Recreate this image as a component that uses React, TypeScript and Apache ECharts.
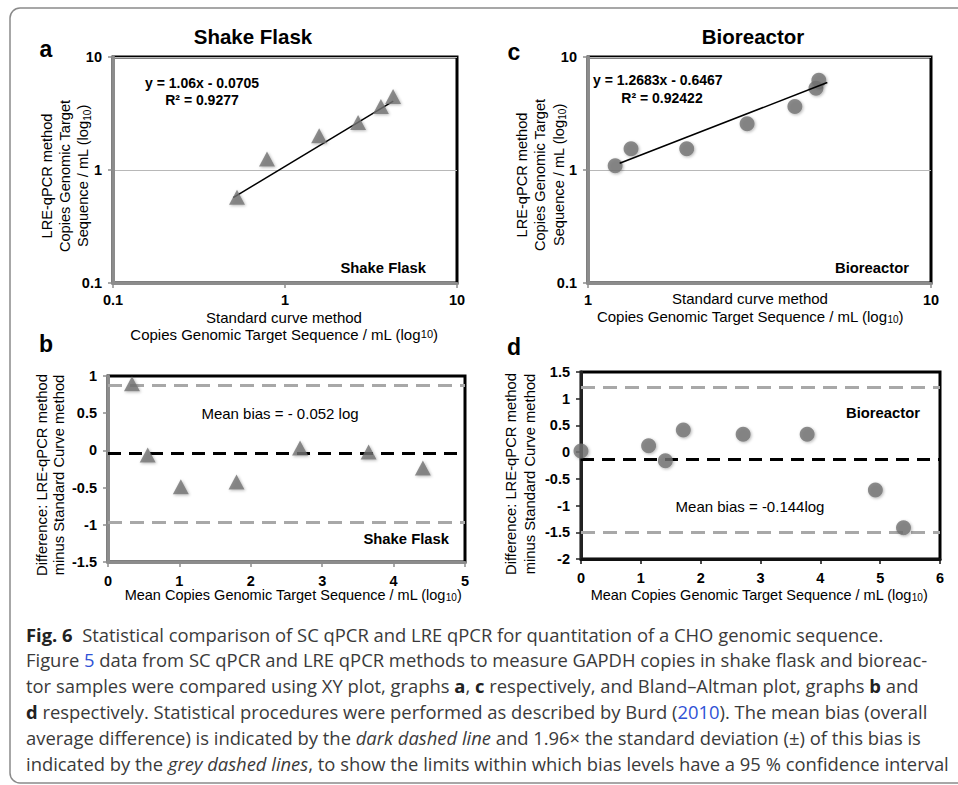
import React, { useEffect, useRef } from "react";
import * as echarts from "echarts";

// Panel a: XY plot, shake flask (SC method vs LRE method)
const shakeX = [0.526, 0.786, 1.58, 2.66, 3.61, 4.25];
const shakeY = [0.574, 1.25, 2.01, 2.63, 3.65, 4.48];
const shakeTrend = [
  [0.5, 0.57],
  [4.26, 4.07],
];

// Panel c: XY plot, bioreactor
const bioX = [1.2, 1.335, 1.94, 2.91, 4.01, 4.62, 4.71];
const bioY = [1.09, 1.54, 1.54, 2.57, 3.65, 5.29, 6.23];
const bioTrend = [
  [1.237, 1.148],
  [4.985, 5.94],
];

// Panel b: Bland-Altman, shake flask
const baShakeX = [0.336, 0.556, 1.02, 1.8, 2.69, 3.65, 4.41];
const baShakeY = [0.896, -0.062, -0.49, -0.425, 0.032, -0.02, -0.237];
const baShakeUpper = 0.87;
const baShakeMean = -0.04;
const baShakeLower = -0.96;

// Panel d: Bland-Altman, bioreactor
const baBioX = [0.0, 1.13, 1.41, 1.71, 2.71, 3.78, 4.92, 5.39];
const baBioY = [0.02, 0.12, -0.16, 0.414, 0.333, 0.333, -0.71, -1.415];
const baBioUpper = 1.21;
const baBioMean = -0.144;
const baBioLower = -1.5;

const FONT = "'Liberation Sans', Arial, Helvetica, sans-serif";
const CAP_FONT = "'Open Sans', 'Noto Sans', sans-serif";
const CAP_SIZE = 18.4;

const zip = (xs: number[], ys: number[]) => xs.map((x, i) => [x, ys[i]]);

const tickLabel = {
  color: "#000",
  fontWeight: "bold" as const,
  fontSize: 14.5,
  fontFamily: FONT,
};

function makeAxis(
  gridIndex: number,
  kind: "log" | "value",
  min: number,
  max: number,
  lineColor: string,
  extra: any = {},
  margin = 11
) {
  const ax: any = {
    gridIndex,
    type: kind,
    min,
    max,
    axisLine: { show: true, onZero: false, lineStyle: { color: lineColor, width: 3 } },
    axisTick: { show: true, length: 5, lineStyle: { color: lineColor, width: 1.5 } },
    axisLabel: { ...tickLabel, margin, formatter: (v: number) => String(+v.toFixed(4)) },
    splitLine: { show: false },
    ...extra,
  };
  if (kind === "log") ax.logBase = 10;
  return ax;
}

const triStyle = {
  color: "#727272",
  shadowBlur: 3,
  shadowColor: "rgba(0,0,0,0.35)",
  shadowOffsetX: 1,
  shadowOffsetY: 1,
};

const greyDash = { color: "#a8a8a8", width: 3, type: [14, 8] as number[] };
const darkDash = { color: "#000", width: 3, type: [13, 8] as number[] };

function txt(x: number, y: number, text: string, o: any = {}) {
  return {
    type: "text",
    x,
    y,
    rotation: o.rotation || 0,
    silent: true,
    style: {
      text,
      fill: o.fill || "#000",
      fontFamily: o.fontFamily || FONT,
      fontSize: o.fontSize || 15,
      fontWeight: o.fontWeight || "normal",
      fontStyle: o.fontStyle || "normal",
      align: o.align || "center",
      verticalAlign: "middle",
      lineHeight: o.lineHeight,
      rich: o.rich,
    },
  };
}

const subRich = {
  s: { fontSize: 10, fontFamily: FONT, verticalAlign: "bottom", lineHeight: 12, fill: "#000" },
};

const capRich = {
  b: { fontWeight: "bold", fontFamily: CAP_FONT, fontSize: CAP_SIZE, fill: "#222" },
  l: { fill: "#2f52d6", fontFamily: CAP_FONT, fontSize: CAP_SIZE },
  i: { fontStyle: "italic", fontFamily: CAP_FONT, fontSize: CAP_SIZE, fill: "#3a3a3a" },
};

const captionLines = [
  "{b|Fig. 6}  Statistical comparison of SC qPCR and LRE qPCR for quantitation of a CHO genomic sequence.",
  "Figure {l|5} data from SC qPCR and LRE qPCR methods to measure GAPDH copies in shake flask and bioreac-",
  "tor samples were compared using XY plot, graphs {b|a}, {b|c} respectively, and Bland–Altman plot, graphs {b|b} and",
  "{b|d} respectively. Statistical procedures were performed as described by Burd ({l|2010}). The mean bias (overall",
  "average difference) is indicated by the {i|dark dashed line} and 1.96× the standard deviation (±) of this bias is",
  "indicated by the {i|grey dashed lines}, to show the limits within which bias levels have a 95 % confidence interval",
];

export default function App() {
  const ref = useRef<HTMLDivElement>(null);

  useEffect(() => {
    document.body.style.margin = "0";
    const chart = echarts.init(ref.current!, null, { renderer: "svg" });

    const graphics: any[] = [
      {
        type: "rect",
        silent: true,
        z: -10,
        shape: { x: 10, y: 8, width: 990, height: 775, r: 10 },
        style: { fill: "none", stroke: "#8a8a8a", lineWidth: 1.5 },
      },
      // titles and panel letters
      txt(253, 36, "Shake Flask", { fontSize: 20.5, fontWeight: "bold" }),
      txt(753, 36, "Bioreactor", { fontSize: 20.5, fontWeight: "bold" }),
      txt(46, 49, "a", { fontSize: 23, fontWeight: "bold" }),
      txt(514, 52, "c", { fontSize: 23, fontWeight: "bold" }),
      txt(46, 344, "b", { fontSize: 23, fontWeight: "bold" }),
      txt(514, 347, "d", { fontSize: 23, fontWeight: "bold" }),
      // equations
      txt(202, 83, "y = 1.06x - 0.0705", { fontSize: 14, fontWeight: "bold" }),
      txt(202, 100, "R² = 0.9277", { fontSize: 14, fontWeight: "bold" }),
      txt(593, 80, "y = 1.2683x - 0.6467", { fontSize: 14, fontWeight: "bold", align: "left" }),
      txt(662, 98, "R² = 0.92422", { fontSize: 14, fontWeight: "bold" }),
      // in-panel labels
      txt(426, 268, "Shake Flask", { fontSize: 14.8, fontWeight: "bold", align: "right" }),
      txt(909, 268, "Bioreactor", { fontSize: 14.8, fontWeight: "bold", align: "right" }),
      txt(449, 539, "Shake Flask", { fontSize: 14.8, fontWeight: "bold", align: "right" }),
      txt(920, 413, "Bioreactor", { fontSize: 14.8, fontWeight: "bold", align: "right" }),
      txt(280, 413, "Mean bias = - 0.052 log", { fontSize: 15 }),
      txt(750, 506, "Mean bias = -0.144log", { fontSize: 15 }),
      // x axis names
      txt(284, 317, "Standard curve method", { fontSize: 15, lineHeight: 15 }),
      txt(284, 334, "Copies Genomic Target Sequence / mL (log{t|10})", {
        fontSize: 15,
        lineHeight: 15,
        rich: { t: { fontSize: 11, fontFamily: FONT, fill: "#000" } },
      }),
      txt(750, 298, "Standard curve method", { fontSize: 15, lineHeight: 15 }),
      txt(750, 316, "Copies Genomic Target Sequence / mL (log{s|10})", { fontSize: 15, rich: subRich, lineHeight: 16 }),
      txt(293, 595, "Mean Copies Genomic Target Sequence / mL (log{s|10})", { fontSize: 14.5, rich: subRich, lineHeight: 15 }),
      txt(759, 595, "Mean Copies Genomic Target Sequence / mL (log{s|10})", { fontSize: 14.5, rich: subRich, lineHeight: 15 }),
      // y axis names
      txt(65, 176, "LRE-qPCR method\nCopies Genomic Target\nSequence / mL (log{s|10})", {
        fontSize: 14.6,
        rotation: Math.PI / 2,
        lineHeight: 18,
        rich: subRich,
      }),
      txt(540, 175, "LRE-qPCR method\nCopies Genomic Target\nSequence / mL (log{s|10})", {
        fontSize: 14.6,
        rotation: Math.PI / 2,
        lineHeight: 18.5,
        rich: subRich,
      }),
      txt(50, 475, "Difference: LRE-qPCR method\nminus Standard Curve method", {
        fontSize: 14.8,
        rotation: Math.PI / 2,
        lineHeight: 17,
      }),
      txt(520, 474, "Difference: LRE-qPCR method\nminus Standard Curve method", {
        fontSize: 14.8,
        rotation: Math.PI / 2,
        lineHeight: 19,
      }),
    ];

    captionLines.forEach((line, i) => {
      graphics.push(
        txt(26, 634 + i * 25.9, line, {
          fontFamily: CAP_FONT,
          fontSize: CAP_SIZE,
          fill: "#3a3a3a",
          align: "left",
          rich: capRich,
        })
      );
    });

    const option: any = {
      animation: false,
      backgroundColor: "#fff",
      grid: [
        { left: 113, top: 57, width: 344, height: 226, show: true, borderColor: "#000", borderWidth: 3 },
        { left: 588, top: 57, width: 343, height: 226, show: true, borderColor: "#000", borderWidth: 3 },
        { left: 108, top: 376, width: 357, height: 186, show: true, borderColor: "#000", borderWidth: 3 },
        { left: 581, top: 372, width: 359, height: 187, show: true, borderColor: "#000", borderWidth: 3 },
      ],
      xAxis: [
        makeAxis(0, "log", 0.1, 10, "#8c8c8c", {}, 9),
        makeAxis(1, "log", 1, 10, "#8c8c8c", {}, 9),
        makeAxis(2, "value", 0, 5, "#8c8c8c", { interval: 1 }),
        makeAxis(3, "value", 0, 6, "#111", { interval: 1 }),
      ],
      yAxis: [
        makeAxis(0, "log", 0.1, 10, "#8c8c8c", {
          splitLine: { show: true, lineStyle: { color: "#b8b8b8", width: 1 } },
        }),
        makeAxis(1, "log", 0.1, 10, "#8c8c8c", {
          splitLine: { show: true, lineStyle: { color: "#b8b8b8", width: 1 } },
        }),
        makeAxis(2, "value", -1.5, 1, "#8c8c8c", { interval: 0.5 }),
        makeAxis(3, "value", -2, 1.5, "#222", { interval: 0.5 }),
      ],
      series: [
        {
          type: "line",
          xAxisIndex: 0,
          yAxisIndex: 0,
          data: shakeTrend,
          symbol: "none",
          silent: true,
          z: 1,
          lineStyle: { color: "#000", width: 1.5 },
        },
        {
          type: "scatter",
          xAxisIndex: 0,
          yAxisIndex: 0,
          data: zip(shakeX, shakeY),
          symbol: "triangle",
          symbolSize: [16, 15],
          itemStyle: triStyle,
          z: 3,
        },
        {
          type: "line",
          xAxisIndex: 1,
          yAxisIndex: 1,
          data: bioTrend,
          symbol: "none",
          silent: true,
          z: 4,
          lineStyle: { color: "#000", width: 1.5 },
        },
        {
          type: "scatter",
          xAxisIndex: 1,
          yAxisIndex: 1,
          data: zip(bioX, bioY),
          symbol: "circle",
          symbolSize: 15,
          itemStyle: triStyle,
          z: 3,
        },
        {
          type: "scatter",
          xAxisIndex: 2,
          yAxisIndex: 2,
          data: zip(baShakeX, baShakeY),
          symbol: "triangle",
          symbolSize: [16, 15],
          itemStyle: triStyle,
          z: 3,
          markLine: {
            silent: true,
            z: 1,
            symbol: ["none", "none"],
            label: { show: false },
            data: [
              { yAxis: baShakeUpper, lineStyle: greyDash },
              { yAxis: baShakeMean, lineStyle: darkDash },
              { yAxis: baShakeLower, lineStyle: greyDash },
            ],
          },
        },
        {
          type: "scatter",
          xAxisIndex: 3,
          yAxisIndex: 3,
          data: zip(baBioX, baBioY),
          symbol: "circle",
          symbolSize: 15,
          itemStyle: triStyle,
          z: 3,
          markLine: {
            silent: true,
            z: 1,
            symbol: ["none", "none"],
            label: { show: false },
            data: [
              { yAxis: baBioUpper, lineStyle: greyDash },
              { yAxis: baBioMean, lineStyle: darkDash },
              { yAxis: baBioLower, lineStyle: greyDash },
            ],
          },
        },
      ],
      graphic: graphics,
    };

    chart.setOption(option);
    return () => chart.dispose();
  }, []);

  return <div ref={ref} style={{ width: 958, height: 785 }} />;
}
